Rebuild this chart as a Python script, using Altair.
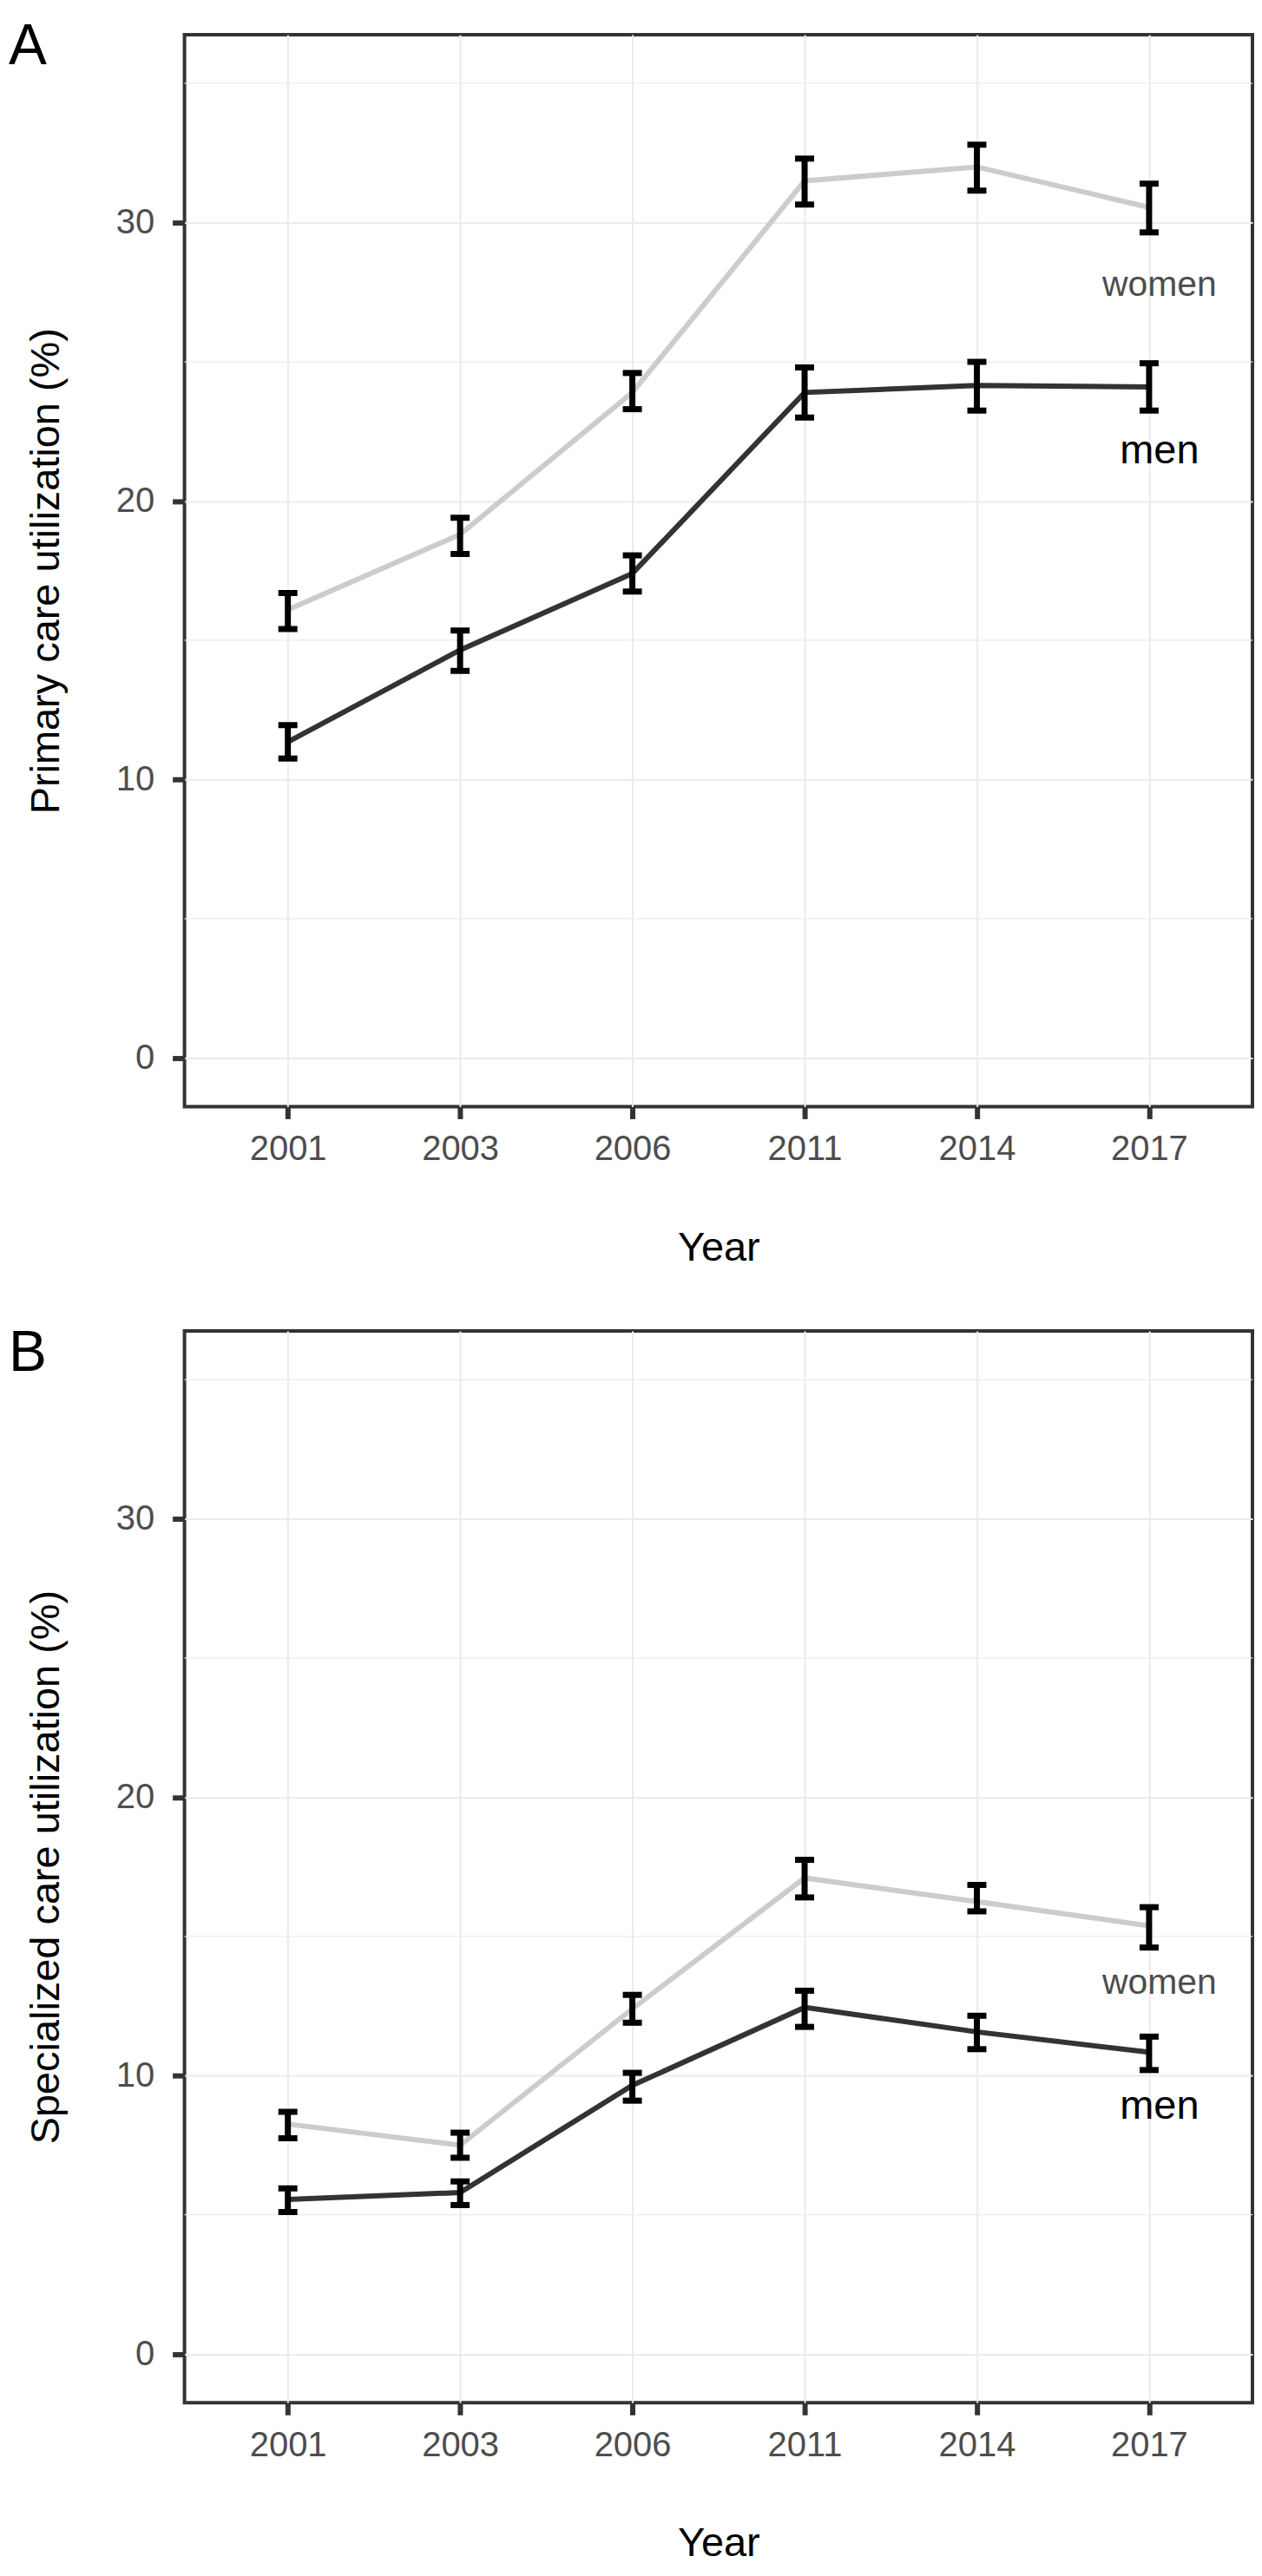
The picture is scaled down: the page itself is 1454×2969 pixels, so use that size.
import altair as alt
import pandas as pd

# ---------------- data ----------------
years = ["2001", "2003", "2006", "2011", "2014", "2017"]

# Panel A: primary care utilization (%)
primary_women = [16.1, 18.8, 23.9, 31.5, 32.0, 30.55]
primary_women_lo = [15.4, 18.1, 23.3, 30.65, 31.15, 29.65]
primary_women_hi = [16.7, 19.4, 24.6, 32.3, 32.8, 31.4]
primary_men = [11.35, 14.65, 17.4, 23.9, 24.15, 24.1]
primary_men_lo = [10.75, 13.9, 16.75, 23.0, 23.25, 23.25]
primary_men_hi = [11.95, 15.35, 18.05, 24.8, 25.0, 24.95]

# Panel B: specialized care utilization (%)
special_women = [8.26, 7.5, 12.4, 17.1, 16.25, 15.38]
special_women_lo = [7.75, 7.05, 11.9, 16.4, 15.9, 14.6]
special_women_hi = [8.7, 7.95, 12.9, 17.75, 16.85, 16.05]
special_men = [5.55, 5.8, 9.65, 12.45, 11.57, 10.84]
special_men_lo = [5.1, 5.35, 9.1, 11.75, 10.95, 10.2]
special_men_hi = [5.95, 6.2, 10.1, 13.05, 12.15, 11.4]

series_names = ["women", "men"]
label_year = "2017"
primary_label_y = [27.36, 21.37]   # women, men
special_label_y = [12.93, 8.46]

major_ticks = [0, 10, 20, 30]
minor_grid = [5, 15, 25, 35]
y_limits = [-1.75, 36.75]

panel_letters = ["A", "B"]
y_titles = ["Primary care utilization (%)", "Specialized care utilization (%)"]
x_title = "Year"

# ---------------- helpers ----------------
W = 1233
H = 1238


def make_df(w, wlo, whi, m, mlo, mhi):
    rows = []
    for i, yr in enumerate(years):
        rows.append({"year": yr, "sex": "women", "value": w[i], "lo": wlo[i], "hi": whi[i]})
        rows.append({"year": yr, "sex": "men", "value": m[i], "lo": mlo[i], "hi": mhi[i]})
    return pd.DataFrame(rows)


x_scale = alt.Scale(type="point", domain=years, padding=0.6)
y_scale = alt.Scale(domain=y_limits, nice=False, zero=False)

x_axis = alt.Axis(
    title=x_title, labelAngle=0, labelFontSize=40, labelColor="#4d4d4d", labelPadding=15,
    tickSize=14, tickWidth=6, tickColor="#333333", grid=True, gridColor="#ebebeb",
    gridWidth=2, domain=False, titleFontSize=47, titleFontWeight="normal",
    titleColor="black", titleX=W / 2, titleY=177, titleBaseline="alphabetic",
)


def y_axis(title):
    return alt.Axis(
        title=title, values=major_ticks, labelFontSize=40, labelColor="#4d4d4d",
        labelPadding=21, tickSize=14, tickWidth=6, tickColor="#333333", grid=True,
        gridColor="#ebebeb", gridWidth=2, domain=False, titleFontSize=47,
        titleFontWeight="normal", titleColor="black", titleX=-145, titleY=H / 2,
        titleAngle=270, titleBaseline="alphabetic", titleAlign="center",
    )


def panel(df, label_y, letter, letter_y, ytitle):
    ax = y_axis(ytitle)
    X = alt.X("year:O", scale=x_scale, axis=x_axis, sort=years)

    def Y(field):
        return alt.Y(f"{field}:Q", scale=y_scale, axis=ax)

    minor = alt.Chart(pd.DataFrame({"v": minor_grid})).mark_rule(
        color="#ebebeb", strokeWidth=1.2
    ).encode(y=Y("v"))

    lines = alt.Chart(df).mark_line(strokeWidth=6).encode(
        x=X, y=Y("value"),
        color=alt.Color("sex:N", scale=alt.Scale(domain=series_names, range=["#cccccc", "#333333"]), legend=None),
        detail="sex:N",
    )

    stems = alt.Chart(df).mark_rule(color="black", strokeWidth=7).encode(
        x=X, y=Y("lo"), y2="hi:Q"
    )
    cap_lo = alt.Chart(df).mark_tick(color="black", thickness=7, size=22, opacity=1).encode(
        x=X, y=Y("lo")
    )
    cap_hi = alt.Chart(df).mark_tick(color="black", thickness=7, size=22, opacity=1).encode(
        x=X, y=Y("hi")
    )

    lab_df = pd.DataFrame({"year": [label_year, label_year], "label": series_names, "ly": label_y})
    lab_w = alt.Chart(lab_df).transform_filter(alt.datum.label == "women").mark_text(
        fontSize=41, color="#4d4d4d", dx=12, align="center", baseline="alphabetic"
    ).encode(x=X, y=Y("ly"), text="label:N")
    lab_m = alt.Chart(lab_df).transform_filter(alt.datum.label == "men").mark_text(
        fontSize=47, color="black", dx=12, align="center", baseline="alphabetic"
    ).encode(x=X, y=Y("ly"), text="label:N")

    letter_chart = alt.Chart(pd.DataFrame({"t": [letter]})).mark_text(
        fontSize=66, color="black", align="left", baseline="alphabetic"
    ).encode(x=alt.value(-203), y=alt.value(letter_y), text="t:N")

    return alt.layer(minor, lines, stems, cap_lo, cap_hi, lab_w, lab_m, letter_chart).properties(
        width=W, height=H
    )


df_a = make_df(primary_women, primary_women_lo, primary_women_hi,
               primary_men, primary_men_lo, primary_men_hi)
df_b = make_df(special_women, special_women_lo, special_women_hi,
               special_men, special_men_lo, special_men_hi)

chart_a = panel(df_a, primary_label_y, panel_letters[0], 34, y_titles[0])
chart_b = panel(df_b, special_label_y, panel_letters[1], 46, y_titles[1])

chart = alt.vconcat(chart_a, chart_b, spacing=259, bounds="flush").properties(
    padding={"left": 0, "top": 8, "right": 0, "bottom": 0}, background="white"
).configure(font="Liberation Sans").configure_view(stroke="#333333", strokeWidth=4)

chart.save("out.html", embed_options={"renderer": "svg", "actions": False})
